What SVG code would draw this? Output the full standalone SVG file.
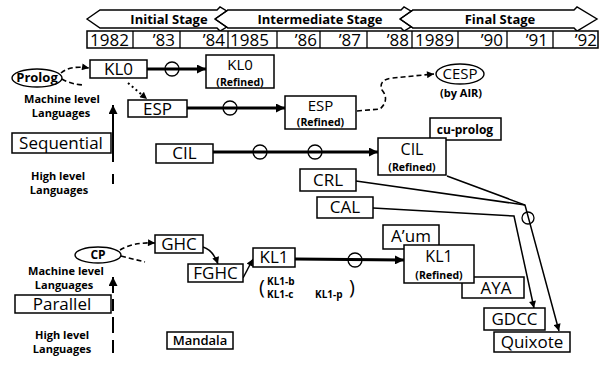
<svg xmlns="http://www.w3.org/2000/svg" width="604" height="369" viewBox="0 0 604 369">
<style>
text{font-family:"Open Sans","Noto Sans","DejaVu Sans",sans-serif;fill:#000}
.box{fill:#fff;stroke:#000;stroke-width:1.5}
.ell{fill:#fff;stroke:#000;stroke-width:1.4}
.n{font-size:16px;text-anchor:middle}
.r{font-size:10.5px;font-weight:bold}
.lab{font-size:11px;font-weight:bold;text-anchor:middle}
.sm{font-size:10px;font-weight:bold}
.yr{font-size:17px}
.st{font-size:13px;font-weight:bold;text-anchor:middle}
.stage{fill:#fff;stroke:#000;stroke-width:1.4}
.thick{stroke:#000;stroke-width:3.2;fill:none}
.thin{stroke:#000;stroke-width:1.5;fill:none}
.dash{stroke:#000;stroke-width:1.6;fill:none;stroke-dasharray:5 3}
.dot{stroke:#000;stroke-width:2;fill:none;stroke-dasharray:2 3}
.circ{fill:none;stroke:#000;stroke-width:1.3}
.axis{stroke:#000;stroke-width:2;fill:none}
</style>
<defs>
<marker id="big" viewBox="0 0 10 10" refX="10" refY="5" markerWidth="10" markerHeight="9" markerUnits="userSpaceOnUse" orient="auto"><path d="M0,0L10,5L0,10z"/></marker>
<marker id="sm" viewBox="0 0 10 10" refX="10" refY="5" markerWidth="8" markerHeight="7" markerUnits="userSpaceOnUse" orient="auto"><path d="M0,0L10,5L0,10z"/></marker>
</defs>

<g id="timeline">
  <path class="stage" d="M87,19 L100,10 L217,10 L220,7 L240,19 L220,31 L217,28 L100,28 Z"/>
  <path class="stage" d="M215,19 L228,10 L401,10 L404,7 L424,19 L404,31 L401,28 L228,28 Z"/>
  <path class="stage" d="M400,19 L413,10 L574,10 L577,7 L597,19 L577,31 L574,28 L413,28 Z"/>
  <path d="M215,19 L228,10 M215,19 L228,28 M400,19 L413,10 M400,19 L413,28" stroke="#000" stroke-width="1.4" fill="none"/>
  <text class="st" x="169" y="24">Initial  Stage</text>
  <text class="st" x="320" y="24">Intermediate Stage</text>
  <text class="st" x="500" y="24">Final  Stage</text>
  <rect x="87" y="31" width="511" height="17" fill="#fff" stroke="#000" stroke-width="1.5"/>
  <path d="M133,31V48M180,31V48M228,31V48M277,31V48M320,31V48M367,31V48M412,31V48M458,31V48M507,31V48M553,31V48" stroke="#000" stroke-width="1.3"/>
  <text class="yr" x="90" y="46">1982</text>
  <text class="yr" x="175" y="46" text-anchor="end">’83</text>
  <text class="yr" x="225" y="46" text-anchor="end">’84</text>
  <text class="yr" x="230" y="46">1985</text>
  <text class="yr" x="317" y="46" text-anchor="end">’86</text>
  <text class="yr" x="361" y="46" text-anchor="end">’87</text>
  <text class="yr" x="409" y="46" text-anchor="end">’88</text>
  <text class="yr" x="415" y="46">1989</text>
  <text class="yr" x="503" y="46" text-anchor="end">’90</text>
  <text class="yr" x="548" y="46" text-anchor="end">’91</text>
  <text class="yr" x="597" y="46" text-anchor="end">’92</text>
</g>

<g id="connectors">
  <path class="thick" d="M147,69 L206,69" marker-end="url(#big)"/>
  <circle class="circ" cx="172" cy="69" r="7"/>
  <path class="thick" d="M187,108 L285,108" marker-end="url(#big)"/>
  <circle class="circ" cx="230" cy="108" r="7"/>
  <path class="thick" d="M213,152 L378,152" marker-end="url(#big)"/>
  <circle class="circ" cx="260" cy="152" r="7"/>
  <circle class="circ" cx="315" cy="152" r="7"/>
  <path class="thick" d="M295,259 L404,260" marker-end="url(#big)"/>
  <circle class="circ" cx="355" cy="260" r="7"/>
  <path class="dash" d="M61,73 Q70,65 89,68" marker-end="url(#sm)"/>
  <path class="dash" d="M62,79 Q70,84 83,85"/>
  <path class="dot" d="M128,83 L147,99" marker-end="url(#sm)"/>
  <path class="dash" d="M357,111 L380,109 Q390,100 382,90 Q378,80 392,78 L434,74" marker-end="url(#sm)"/>
  <path class="dash" d="M120,250 Q133,242 155,243" marker-end="url(#sm)"/>
  <path class="dash" d="M121,256 L145,262"/>
  <path class="thin" d="M203,247 Q213,250 218,264" marker-end="url(#sm)"/>
  <path class="thin" d="M243,278 L253,259" marker-end="url(#sm)"/>
  <path class="thin" d="M447,176 L525,205 L559,331" marker-end="url(#sm)"/>
  <path class="thin" d="M356,181 L525,205"/>
  <path class="thin" d="M373,208 L514,216 L534,308" marker-end="url(#sm)"/>
  <circle class="circ" cx="528" cy="218" r="6"/>
  <path class="axis" d="M113,162 V105" marker-end="url(#big)"/>
  <path class="axis" d="M113,174 V184"/>
  <path class="axis" d="M113,293 V277" marker-end="url(#big)"/>
  <path class="axis" d="M113,299 V311 M113,317 V333 M113,340 V353"/>
</g>

<g id="axis-labels">
  <text class="lab"><tspan x="62" y="103">Machine level</tspan><tspan x="61" y="117">Languages</tspan></text>
  <text class="lab"><tspan x="58" y="180">High level</tspan><tspan x="59" y="194">Languages</tspan></text>
  <text class="lab"><tspan x="66" y="275">Machine level</tspan><tspan x="64" y="289">Languages</tspan></text>
  <text class="lab"><tspan x="62" y="339">High level</tspan><tspan x="62" y="353">Languages</tspan></text>
</g>

<g id="prolog"><ellipse class="ell" cx="37" cy="78" rx="25" ry="9"/><text class="lab" x="37" y="82" style="font-size:13px">Prolog</text></g>
<g id="kl0"><rect class="box" x="90" y="60" width="57" height="18"/><text class="n" x="118.5" y="75" style="font-size:17px">KL0</text></g>
<g id="kl0-refined"><rect class="box" x="206" y="55" width="68" height="33"/><text class="n" style="font-size:15px"><tspan x="240" y="70">KL0</tspan><tspan class="r" x="240" y="85.5">(Refined)</tspan></text></g>
<g id="esp"><rect class="box" x="128" y="100" width="59" height="17"/><text class="n" x="157.5" y="115" style="font-size:17px">ESP</text></g>
<g id="esp-refined"><rect class="box" x="285" y="96" width="71" height="33"/><text class="n" style="font-size:15px"><tspan x="320.5" y="111">ESP</tspan><tspan class="r" x="320.5" y="126">(Refined)</tspan></text></g>
<g id="cesp"><ellipse class="ell" cx="460" cy="74" rx="24" ry="10"/><text class="n" x="460" y="79" style="font-size:15px">CESP</text><text class="r" x="461" y="97" text-anchor="middle" style="font-size:11px">(by AIR)</text></g>
<g id="sequential"><rect class="box" x="12" y="133" width="99" height="20"/><text class="n" x="61" y="149" style="font-size:17px">Sequential</text></g>
<g id="cil"><rect class="box" x="156" y="144" width="57" height="19"/><text class="n" x="184.5" y="159" style="font-size:17px">CIL</text></g>
<g id="cu-prolog"><rect class="box" x="430" y="118" width="71" height="22"/><text class="r" x="465" y="134" text-anchor="middle" style="font-size:12px">cu-prolog</text></g>
<g id="cil-refined"><rect class="box" x="378" y="138" width="68" height="37"/><text class="n" style="font-size:16px"><tspan x="412" y="155">CIL</tspan><tspan class="r" x="412" y="171">(Refined)</tspan></text></g>
<g id="crl"><rect class="box" x="300" y="169" width="56" height="22"/><text class="n" x="328" y="186" style="font-size:17px">CRL</text></g>
<g id="cal"><rect class="box" x="317" y="197" width="56" height="21"/><text class="n" x="345" y="213" style="font-size:17px">CAL</text></g>
<g id="cp"><ellipse class="ell" cx="98" cy="255" rx="23" ry="8"/><text class="lab" x="98" y="259" style="font-size:12px">CP</text></g>
<g id="ghc"><rect class="box" x="155" y="235" width="48" height="18"/><text class="n" x="179" y="250" style="font-size:17px">GHC</text></g>
<g id="fghc"><rect class="box" x="188" y="264" width="55" height="18"/><text class="n" x="215.5" y="279" style="font-size:17px">FGHC</text></g>
<g id="kl1"><rect class="box" x="253" y="248" width="42" height="19"/><text class="n" x="274" y="263" style="font-size:17px">KL1</text>
  <text style="font-size:20px"><tspan x="259" y="294">(</tspan><tspan class="sm" x="267" y="285">KL1-b</tspan><tspan class="sm" x="267" y="298">KL1-c</tspan><tspan class="sm" x="315" y="298">KL1-p</tspan><tspan x="349" y="294">)</tspan></text>
</g>
<g id="aum"><rect class="box" x="383" y="225" width="56" height="24"/><text class="n" x="411" y="242" style="font-size:17px">A’um</text></g>
<g id="aya"><rect class="box" x="462" y="277" width="62" height="21"/><text class="n" x="496" y="294" style="font-size:17px">AYA</text></g>
<g id="kl1-refined"><rect class="box" x="404" y="245" width="70" height="38"/><text class="n" style="font-size:16px"><tspan x="439" y="262">KL1</tspan><tspan class="r" x="439" y="278.5">(Refined)</tspan></text></g>
<g id="parallel"><rect class="box" x="15" y="295" width="96" height="18"/><text class="n" x="62" y="310" style="font-size:17px">Parallel</text></g>
<g id="mandala"><rect class="box" x="167" y="332" width="66" height="17"/><text class="n" x="200" y="345" style="font-size:13px;font-weight:600">Mandala</text></g>
<g id="gdcc"><rect class="box" x="484" y="308" width="61" height="22"/><text class="n" x="514.5" y="325" style="font-size:17px">GDCC</text></g>
<g id="quixote"><rect class="box" x="494" y="332" width="76" height="20"/><text class="n" x="532" y="348" style="font-size:17px">Quixote</text></g>
</svg>
